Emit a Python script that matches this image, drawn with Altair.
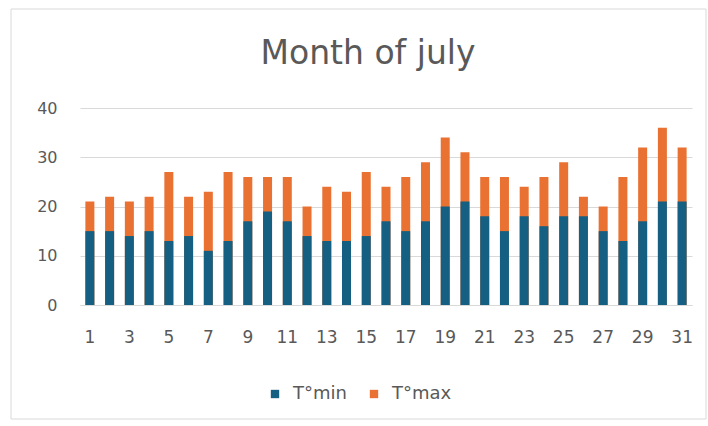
import altair as alt
import pandas as pd

# Daily temperatures for July
days = list(range(1, 32))
t_min = [15, 15, 14, 15, 13, 14, 11, 13, 17, 19, 17, 14, 13, 13, 14, 17,
         15, 17, 20, 21, 18, 15, 18, 16, 18, 18, 15, 13, 17, 21, 21]
t_max = [21, 22, 21, 22, 27, 22, 23, 27, 26, 26, 26, 20, 24, 23, 27, 24,
         26, 29, 34, 31, 26, 26, 24, 26, 29, 22, 20, 26, 32, 36, 32]
series = ["T°min", "T°max"]
colors = ["#156082", "#E97132"]

# Max rows first so the min bars are drawn over them
rows = [{"day": d, "series": "T°max", "value": v, "o": 0} for d, v in zip(days, t_max)]
rows += [{"day": d, "series": "T°min", "value": v, "o": 1} for d, v in zip(days, t_min)]
df = pd.DataFrame(rows)

FONT = "DejaVu Sans"
GRAY = "#595959"

bars = alt.Chart(df).mark_bar(size=9).encode(
    x=alt.X("day:O", title=None,
            axis=alt.Axis(labelAngle=0, ticks=False, labelFontSize=17,
                          labelColor=GRAY, labelFont=FONT, labelPadding=24,
                          domainColor="#d9d9d9",
                          labelExpr="datum.value % 2 == 1 ? datum.label : ''")),
    y=alt.Y("value:Q", stack=None, title=None,
            scale=alt.Scale(domain=[0, 40], nice=False),
            axis=alt.Axis(values=[0, 10, 20, 30, 40], ticks=False, domain=False,
                          labelFontSize=16, labelColor=GRAY, labelFont=FONT,
                          labelPadding=23, gridColor="#d9d9d9")),
    color=alt.Color("series:N", scale=alt.Scale(domain=series, range=colors),
                    legend=alt.Legend(title=None, orient="none", direction="horizontal",
                                      legendX=186, legendY=277, symbolType="square",
                                      symbolSize=70, labelFontSize=18, labelColor=GRAY,
                                      labelFont=FONT, labelOffset=9, columnPadding=18)),
    order=alt.Order("o:Q"),
)

# Light chart-area frame
frame = alt.Chart(alt.Data(values=[{}])).mark_rect(
    fill=None, stroke="#d9d9d9", strokeWidth=1
).encode(
    x=alt.value(-69), x2=alt.value(626), y=alt.value(-99), y2=alt.value(311)
)

chart = alt.layer(frame, bars).properties(
    width=612,
    height=197,
    title=alt.TitleParams("Month of july", fontSize=33, font=FONT, color=GRAY,
                          fontWeight="normal", offset=-62, anchor="middle",
                          frame="group", dx=-18),
    autosize=alt.AutoSizeParams(type="none"),
    padding={"left": 80, "top": 108, "right": 16, "bottom": 121},
).configure_view(stroke=None)

chart.save("out.html", embed_options={"renderer": "svg", "actions": False})
